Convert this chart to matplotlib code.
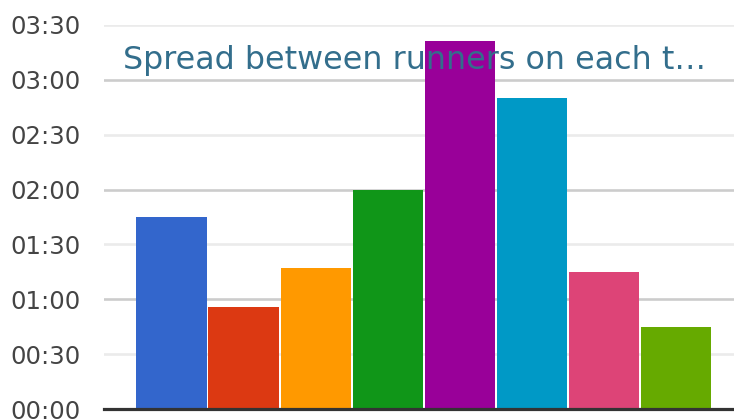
import matplotlib.pyplot as plt
from matplotlib.ticker import FuncFormatter, MultipleLocator

# spread in seconds for each bar
spread_seconds = [105, 56, 77, 120, 201, 170, 75, 45]
bar_colors = ['#3366cc', '#dc3912', '#ff9900', '#109618',
              '#990099', '#0099c6', '#dd4477', '#66aa00']
title = 'Spread between runners on each t…'


def mmss(v, pos):
    v = int(round(v))
    return '%02d:%02d' % (v // 60, v % 60)


fig = plt.figure(figsize=(7.34, 4.19), dpi=100)
ax = fig.add_axes([104 / 734, 10 / 419, 630 / 734, 384 / 419])

x = list(range(len(spread_seconds)))
ax.bar(x, spread_seconds, width=0.975, color=bar_colors, zorder=3)

ax.set_xlim(-0.936, 7.80)
ax.set_ylim(0, 210)
ax.yaxis.set_major_locator(MultipleLocator(60))
ax.yaxis.set_minor_locator(MultipleLocator(30))
ax.yaxis.set_major_formatter(FuncFormatter(mmss))
ax.yaxis.set_minor_formatter(FuncFormatter(mmss))
ax.set_xticks([])

ax.grid(True, which='major', axis='y', color='#cccccc', lw=1.9, zorder=1)
ax.grid(True, which='minor', axis='y', color='#ebebeb', lw=1.9, zorder=1)
ax.tick_params(axis='y', which='both', length=0, pad=16.5,
               labelsize=17.6, labelcolor='#444444')
for s in ax.spines.values():
    s.set_visible(False)
ax.axhline(0, color='#333333', lw=2.3, zorder=4, clip_on=False)

fig.text(414.5 / 734, (419 - 69.5) / 419, title, ha='center', va='baseline',
         fontsize=22.9, color='#336e8c', zorder=10)

plt.savefig('out.png')
plt.close()
